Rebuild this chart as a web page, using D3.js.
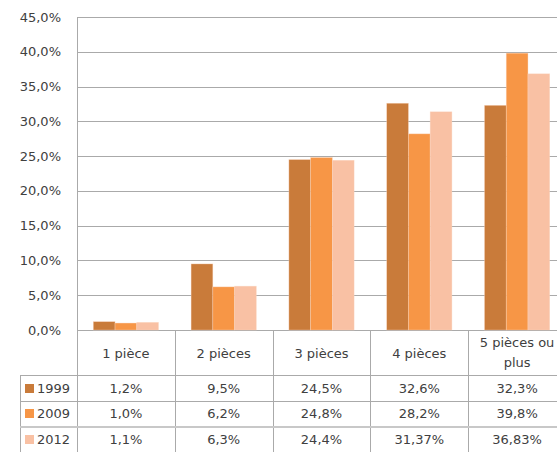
<!DOCTYPE html>
<html>
<head>
<meta charset="utf-8">
<script src="https://cdn.jsdelivr.net/npm/d3@7"></script>
<style>
  body { margin: 0; background: #fff; }
  text { font-family: "DejaVu Sans", sans-serif; font-size: 13px; fill: #404040; }
</style>
</head>
<body>
<script>
var categories = ["1 pièce", "2 pièces", "3 pièces", "4 pièces", "5 pièces ou plus"];
var years = ["1999", "2009", "2012"];
var v1999 = [1.2, 9.5, 24.5, 32.6, 32.3];
var v2009 = [1.0, 6.2, 24.8, 28.2, 39.8];
var v2012 = [1.1, 6.3, 24.4, 31.37, 36.83];
var yTicks = [0, 5, 10, 15, 20, 25, 30, 35, 40, 45];
var colors = ["#c97b3a", "#f79646", "#f9c1a4"];

var series = [v1999, v2009, v2012];

var svg = d3.select("body").append("svg")
    .attr("width", 557)
    .attr("height", 452);

var plotLeft = 77, plotTop = 17, plotBottom = 330;
var bandW = 97.8;

// category cells (plot band = table column)
var xc = d3.scaleBand().domain(categories).range([plotLeft, plotLeft + bandW * categories.length]);
// bars inside a cell, 150% gap width
var xs = d3.scaleBand().domain(years).range([0, bandW]).paddingOuter(0.75);

var y = d3.scaleLinear().domain([0, 45]).range([plotBottom, plotTop]);

// grid
svg.append("g").selectAll("line")
  .data(yTicks)
  .join("line")
    .attr("x1", plotLeft).attr("x2", 557)
    .attr("y1", function(d) { return Math.round(y(d)) + 0.5; })
    .attr("y2", function(d) { return Math.round(y(d)) + 0.5; })
    .attr("stroke", "#aaaaaa");

// y labels
svg.append("g").selectAll("text")
  .data(yTicks)
  .join("text")
    .attr("x", 61)
    .attr("y", function(d) { return y(d); })
    .attr("dy", "0.35em")
    .attr("text-anchor", "end")
    .text(function(d) { return d.toFixed(1).replace(".", ",") + "%"; });

// bars
series.forEach(function(vals, i) {
  svg.append("g").selectAll("rect")
    .data(vals)
    .join("rect")
      .attr("x", function(d, j) { return xc(categories[j]) + xs(years[i]); })
      .attr("y", function(d) { return y(d); })
      .attr("width", xs.bandwidth())
      .attr("height", function(d) { return plotBottom - y(d); })
      .attr("fill", colors[i])
      .attr("stroke", "#fbd7c2")
      .attr("stroke-opacity", 0.6)
      .attr("stroke-width", 0.6);
});

// table lines
var tbl = svg.append("g").attr("stroke", "#aaaaaa");
var rowY = [375, 401, 426.5];
tbl.append("line").attr("x1", plotLeft + 0.5).attr("x2", plotLeft + 0.5).attr("y1", plotTop).attr("y2", 452);
tbl.selectAll(".v")
  .data(categories)
  .join("line")
    .attr("x1", function(d) { return Math.round(xc(d) + bandW) + 0.5; })
    .attr("x2", function(d) { return Math.round(xc(d) + bandW) + 0.5; })
    .attr("y1", plotBottom).attr("y2", 452);
tbl.append("line").attr("x1", 20.5).attr("x2", 20.5).attr("y1", rowY[0]).attr("y2", 452);
tbl.selectAll(".h")
  .data(rowY)
  .join("line")
    .attr("x1", 20).attr("x2", 557)
    .attr("y1", function(d) { return d + 0.5; })
    .attr("y2", function(d) { return d + 0.5; })
    .attr("stroke", function(d, i) { return i == 2 ? "#c8c8c8" : "#aaaaaa"; })
    .attr("stroke-width", function(d, i) { return i == 2 ? 2 : 1; });

// header labels
categories.forEach(function(c) {
  var cx = xc(c) + bandW / 2;
  var t = svg.append("text").attr("text-anchor", "middle");
  if (c == "5 pièces ou plus") {
    t.append("tspan").attr("x", cx).attr("y", 347).text("5 pièces ou");
    t.append("tspan").attr("x", cx).attr("y", 367).text("plus");
  } else {
    t.attr("x", cx).attr("y", 358).text(c);
  }
});

// data rows
function fmt(v) {
  var s = Math.abs(v * 10 - Math.round(v * 10)) < 1e-9 ? v.toFixed(1) : v.toFixed(2);
  return s.replace(".", ",") + "%";
}
var rowText = [393, 418, 444];
series.forEach(function(vals, i) {
  svg.append("rect")
    .attr("x", 25).attr("y", rowText[i] - 9)
    .attr("width", 9).attr("height", 9)
    .attr("fill", colors[i]);
  svg.append("text")
    .attr("x", 37).attr("y", rowText[i])
    .text(years[i]);
  svg.append("g").selectAll("text")
    .data(vals)
    .join("text")
      .attr("x", function(d, j) { return xc(categories[j]) + bandW / 2; })
      .attr("y", rowText[i])
      .attr("text-anchor", "middle")
      .text(fmt);
});
</script>
</body>
</html>
